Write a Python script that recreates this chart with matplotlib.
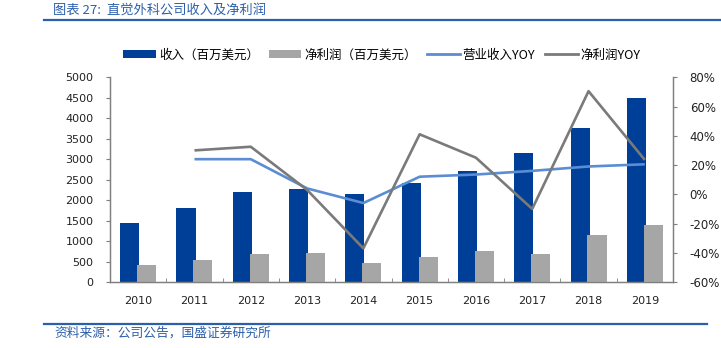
import numpy as np
import matplotlib
matplotlib.use("Agg")
import matplotlib.pyplot as plt
from matplotlib.lines import Line2D
from matplotlib.patches import Patch
from matplotlib.ticker import FuncFormatter, MultipleLocator, FixedLocator

plt.rcParams['font.family'] = ['DejaVu Sans', 'Noto Sans CJK SC']
CJK = ['Noto Sans CJK SC', 'DejaVu Sans']

# ---- data ----
years = ['2010', '2011', '2012', '2013', '2014', '2015', '2016', '2017', '2018', '2019']
revenue = [1450, 1800, 2200, 2280, 2150, 2420, 2720, 3160, 3750, 4490]      # 百万美元
net_profit = [420, 530, 680, 700, 460, 600, 760, 690, 1150, 1400]         # 百万美元
revenue_yoy = [np.nan, 24, 24, 4, -6, 12, 13.5, 16, 19, 20.5]             # %
profit_yoy = [np.nan, 30, 32.5, 3, -37, 41, 25, -10, 70.5, 23.5]          # %

BLUE_BAR = "#003f98"
GRAY_BAR = "#a6a6a6"
BLUE_LINE = "#5a8dd4"
GRAY_LINE = "#7a7a7a"
DARK_BLUE = "#2c5fab"
AXIS_C = "#7f7f7f"

fig = plt.figure(figsize=(7.21, 3.48), dpi=100)
ax = fig.add_axes([0.1526, 0.1897, 0.7808, 0.5882])
ax2 = ax.twinx()

x = np.arange(len(years))
w = 0.34
ax.bar(x - 0.15, revenue, width=w, color=BLUE_BAR, zorder=2)
ax.bar(x + 0.15, net_profit, width=w, color=GRAY_BAR, zorder=3)

ax2.plot(x, revenue_yoy, color=BLUE_LINE, lw=1.9, solid_capstyle='butt')
ax2.plot(x, profit_yoy, color=GRAY_LINE, lw=1.9, solid_capstyle='butt')

ax.set_xlim(-0.5, len(years) - 0.5)
ax.set_ylim(0, 5000)
ax.yaxis.set_major_locator(MultipleLocator(500))
ax2.set_ylim(-60, 80)
ax2.yaxis.set_major_locator(MultipleLocator(20))
ax2.yaxis.set_major_formatter(FuncFormatter(lambda v, p: f"{v:.0f}%"))

ax.set_xticks(x)
ax.set_xticklabels(years)
ax.xaxis.set_minor_locator(FixedLocator(np.arange(0.5, len(years) - 0.5, 1)))
ax.tick_params(axis='x', which='major', length=0, pad=10, labelsize=8, colors='#222222')
ax.tick_params(axis='x', which='minor', direction='in', length=3, color=AXIS_C)
ax.tick_params(axis='y', length=3, color=AXIS_C, labelsize=8, labelcolor='#222222', pad=9)
ax2.tick_params(axis='y', length=3, color=AXIS_C, labelsize=8.5, labelcolor='#222222', pad=9)

for a in (ax, ax2):
    a.spines['top'].set_visible(False)
    for s in ('left', 'right', 'bottom'):
        a.spines[s].set_color(AXIS_C)
        a.spines[s].set_linewidth(0.9)

# legend row
handles = [
    Patch(facecolor=BLUE_BAR, label="收入（百万美元）"),
    Patch(facecolor=GRAY_BAR, label="净利润（百万美元）"),
    Line2D([], [], color=BLUE_LINE, lw=2, label="营业收入YOY"),
    Line2D([], [], color=GRAY_LINE, lw=2, label="净利润YOY"),
]
fig.legend(handles=handles, loc='center', bbox_to_anchor=(382 / 721, 1 - 55 / 348), ncol=4,
           frameon=False, prop={'family': CJK, 'size': 9}, handlelength=2.6,
           handleheight=0.65, handletextpad=0.25, columnspacing=0.8)

# header and footer
fig.text(53 / 721, 1 - 10 / 348, "图表 27:  直觉外科公司收入及净利润", family=CJK, size=9.5,
         style='italic', color=DARK_BLUE, va='center', ha='left')
fig.add_artist(Line2D([44 / 721, 1.0], [1 - 20 / 348] * 2, color=DARK_BLUE, lw=1.6))
fig.add_artist(Line2D([44 / 721, 707 / 721], [1 - 324 / 348] * 2, color=DARK_BLUE, lw=1.6))
fig.text(54 / 721, 1 - 333 / 348, "资料来源：公司公告，国盛证券研究所", family=CJK, size=9.2,
         style='italic', color=DARK_BLUE, va='center', ha='left')

fig.savefig("out.png", dpi=100)
